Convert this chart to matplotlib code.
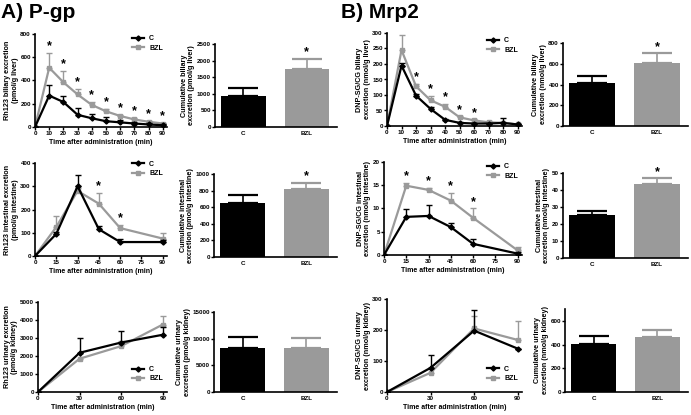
import matplotlib
matplotlib.use("Agg")
import matplotlib.pyplot as plt
import numpy as np

plt.rcParams['font.family'] = ['Liberation Sans', 'DejaVu Sans']
plt.rcParams['font.weight'] = 'bold'

GRAY = '#9a9a9a'

# ---------------- Data ----------------
# P-gp (Rh123)
t_bil = [0, 10, 20, 30, 40, 50, 60, 70, 80, 90]
pgp_bil_C = [0, 270, 215, 105, 75, 50, 40, 30, 22, 15]
pgp_bil_C_err = [0, 90, 50, 60, 40, 32, 20, 12, 10, 8]
pgp_bil_B = [0, 510, 385, 280, 190, 135, 95, 65, 45, 30]
pgp_bil_B_err = [0, 125, 100, 50, 25, 20, 12, 10, 8, 8]
pgp_bil_star = [10, 20, 30, 40, 50, 60, 70, 80, 90]
pgp_cum_bil = [920, 1760]
pgp_cum_bil_err = [260, 300]

t_int = [0, 15, 30, 45, 60, 90]
pgp_int_C = [0, 95, 300, 115, 60, 60]
pgp_int_C_err = [0, 10, 50, 15, 15, 8]
pgp_int_B = [0, 125, 280, 225, 120, 75]
pgp_int_B_err = [0, 45, 12, 45, 15, 25]
pgp_int_star = [45, 60]
pgp_cum_int = [645, 825]
pgp_cum_int_err = [105, 65]

t_uri = [0, 30, 60, 90]
pgp_uri_C = [0, 2180, 2750, 3180]
pgp_uri_C_err = [0, 820, 650, 450]
pgp_uri_B = [0, 1850, 2550, 3750]
pgp_uri_B_err = [0, 300, 300, 450]
pgp_cum_uri = [8200, 8250]
pgp_cum_uri_err = [2100, 1950]

# Mrp2 (DNP-SG/CG)
mrp_bil_C = [0, 195, 98, 55, 20, 10, 8, 8, 10, 5]
mrp_bil_C_err = [0, 8, 5, 5, 3, 2, 2, 2, 15, 2]
mrp_bil_B = [0, 245, 128, 83, 62, 28, 18, 12, 10, 5]
mrp_bil_B_err = [0, 50, 8, 15, 10, 3, 3, 3, 3, 2]
mrp_bil_star = [20, 30, 40, 50, 60]
mrp_cum_bil = [410, 610]
mrp_cum_bil_err = [75, 90]

mrp_int_C = [0, 8.2, 8.4, 6.0, 2.4, 0.3]
mrp_int_C_err = [0, 1.6, 2.3, 0.8, 1.0, 0.3]
mrp_int_B = [0, 14.9, 14.0, 11.7, 8.0, 1.0]
mrp_int_B_err = [0, 0.6, 0.5, 1.7, 2.0, 0.8]
mrp_int_star = [15, 30, 45, 60]
mrp_cum_int = [25.5, 43.5]
mrp_cum_int_err = [2.0, 3.3]

mrp_uri_C = [0, 78, 198, 140]
mrp_uri_C_err = [0, 40, 65, 0]
mrp_uri_B = [0, 62, 205, 168]
mrp_uri_B_err = [0, 12, 40, 60]
mrp_cum_uri = [405, 460]
mrp_cum_uri_err = [70, 65]

groups = ['C', 'BZL']
xlab = 'Time after administration (min)'

W, H = 691, 415
fig = plt.figure(figsize=(W / 100, H / 100), dpi=100)

LBL = 5.2
TICK = 4.5


def ax_at(l, r, t, b):
    return fig.add_axes([l / W, 1 - b / H, (r - l) / W, (b - t) / H])


def style(ax):
    for s in ['top', 'right']:
        ax.spines[s].set_visible(False)
    for s in ['left', 'bottom']:
        ax.spines[s].set_linewidth(1.2)
    ax.tick_params(labelsize=TICK, width=1, length=2, pad=1)
    for lab in ax.get_xticklabels() + ax.get_yticklabels():
        lab.set_fontweight('bold')


def place_ylabel(ax, box, text, yticks):
    ax.set_ylabel(text, fontsize=LBL, fontweight='bold', linespacing=1.1)
    width = box[1] - box[0]
    nch = max(len(str(v)) for v in yticks)
    off = 4.2 + nch * TICK * 0.556 * 100 / 72 + 1.8
    ax.yaxis.set_label_coords(-off / width, 0.5)


def line_panel(box, t, c, ce, b, be, ylim, yticks, xticks, xmax, ylabel,
               stars=(), legend_loc='upper right', legend_anchor=None):
    ax = ax_at(*box)
    t = np.array(t)
    for y, e, col, m, lab in [(b, be, GRAY, 's', 'BZL'), (c, ce, 'black', 'D', 'C')]:
        y = np.array(y, float)
        e = np.array(e, float)
        ax.errorbar(t, y, yerr=[np.zeros_like(e), e], color=col, ecolor=col,
                     elinewidth=1, capsize=2, capthick=1, lw=1.6, marker=m,
                     ms=2.6, label=lab, zorder=3 if col == 'black' else 2)
    bb = np.array(b, float) + np.array(be, float)
    for s in stars:
        i = list(t).index(s)
        ax.annotate('*', (s, bb[i]), xytext=(0, 0.5), textcoords='offset points',
                    ha='center', va='bottom', fontsize=9, fontweight='bold')
    ax.set_xlim(0, xmax)
    ax.set_ylim(*ylim)
    ax.set_yticks(yticks)
    ax.set_xticks(xticks)
    ax.set_xlabel(xlab, fontsize=5, fontweight='bold', labelpad=2)
    place_ylabel(ax, box, ylabel, yticks)
    style(ax)
    h, l = ax.get_legend_handles_labels()
    h = [hh[0] for hh in h][::-1]
    l = l[::-1]
    kw = dict(frameon=False, fontsize=5, handlelength=1.6, handletextpad=0.8,
              labelspacing=0.35, borderaxespad=0.2)
    if legend_anchor is not None:
        kw['bbox_to_anchor'] = legend_anchor
    leg = ax.legend(h, l, loc=legend_loc, **kw)
    for tx in leg.get_texts():
        tx.set_fontweight('bold')
    return ax


def bar_panel(box, vals, errs, ylim, yticks, ylabel, star=False):
    ax = ax_at(*box)
    x = np.arange(2)
    ax.bar(x, vals, width=0.7, color=['black', GRAY], zorder=2)
    for xi, v, e, col in zip(x, vals, errs, ['black', GRAY]):
        ax.errorbar([xi], [v], yerr=[[0], [e]], color=col, capsize=11,
                     elinewidth=1.2, capthick=1.6, zorder=1)
    if star:
        ax.annotate('*', (1, vals[1] + errs[1]), xytext=(0, 0.5),
                    textcoords='offset points', ha='center', va='bottom',
                    fontsize=9, fontweight='bold')
    ax.set_xlim(-0.45, 1.48)
    ax.set_ylim(*ylim)
    ax.set_yticks(yticks)
    ax.set_xticks(x)
    ax.set_xticklabels(groups)
    place_ylabel(ax, box, ylabel, yticks)
    style(ax)
    ax.tick_params(axis='x', length=0, pad=3)
    return ax


# ---------- A) P-gp ----------
line_panel((35, 167, 34, 127), t_bil, pgp_bil_C, pgp_bil_C_err, pgp_bil_B, pgp_bil_B_err,
           (0, 800), [0, 200, 400, 600, 800], list(range(0, 91, 10)), 93,
           'Rh123 biliary excretion\n(pmol/g liver)', stars=pgp_bil_star,
           legend_anchor=(1.0, 1.03))
bar_panel((215, 337, 44, 127), pgp_cum_bil, pgp_cum_bil_err, (0, 2500),
          [0, 500, 1000, 1500, 2000, 2500], 'Cumulative biliary\nexcretion (pmol/g liver)', star=True)

line_panel((35, 167, 163, 256), t_int, pgp_int_C, pgp_int_C_err, pgp_int_B, pgp_int_B_err,
           (0, 400), [0, 100, 200, 300, 400], [0, 15, 30, 45, 60, 75, 90], 93,
           'Rh123 intestinal excretion\n(pmol/g intestine)', stars=pgp_int_star,
           legend_anchor=(1.0, 1.07))
bar_panel((214, 337, 174, 257), pgp_cum_int, pgp_cum_int_err, (0, 1000),
          [0, 200, 400, 600, 800, 1000], 'Cumulative intestinal\nexcretion (pmol/g intestine)', star=True)

line_panel((38, 167, 302, 392), t_uri, pgp_uri_C, pgp_uri_C_err, pgp_uri_B, pgp_uri_B_err,
           (0, 5000), [0, 1000, 2000, 3000, 4000, 5000], [0, 30, 60, 90], 93,
           'Rh123 urinary excretion\n(pmol/g kidney)', legend_loc='lower right',
           legend_anchor=(1.0, 0.06))
bar_panel((214, 337, 312, 392), pgp_cum_uri, pgp_cum_uri_err, (0, 15000),
          [0, 5000, 10000, 15000], 'Cumulative urinary\nexcretion (pmol/g kidney)')

# ---------- B) Mrp2 ----------
line_panel((387, 522, 33, 126), t_bil, mrp_bil_C, mrp_bil_C_err, mrp_bil_B, mrp_bil_B_err,
           (0, 300), [0, 50, 100, 150, 200, 250, 300], list(range(0, 91, 10)), 93,
           'DNP-SG/CG biliary\nexcretion (nmol/g liver)', stars=mrp_bil_star,
           legend_anchor=(1.0, 1.0))
bar_panel((563, 688, 43, 126), mrp_cum_bil, mrp_cum_bil_err, (0, 800),
          [0, 200, 400, 600, 800], 'Cumulative biliary\nexcretion (nmol/g liver)', star=True)

line_panel((384, 522, 162, 255), t_int, mrp_int_C, mrp_int_C_err, mrp_int_B, mrp_int_B_err,
           (0, 20), [0, 5, 10, 15, 20], [0, 15, 30, 45, 60, 75, 90], 93,
           'DNP-SG/CG intestinal\nexcretion (nmol/g intestine)', stars=mrp_int_star,
           legend_anchor=(1.0, 1.03))
bar_panel((563, 688, 173, 258), mrp_cum_int, mrp_cum_int_err, (0, 50),
          [0, 10, 20, 30, 40, 50], 'Cumulative intestinal\nexcretion (nmol/g intestine)', star=True)

line_panel((387, 522, 299, 392), t_uri, mrp_uri_C, mrp_uri_C_err, mrp_uri_B, mrp_uri_B_err,
           (0, 300), [0, 100, 200, 300], [0, 30, 60, 90], 93,
           'DNP-SG/CG urinary\nexcretion (nmol/g kidney)', legend_loc='lower right',
           legend_anchor=(1.0, 0.06))
bar_panel((565, 688, 309, 392), mrp_cum_uri, mrp_cum_uri_err, (0, 700),
          [0, 200, 400, 600], 'Cumulative urinary\nexcretion (nmol/g kidney)')

fig.text(1 / W, 1 - 12 / H, 'A) P-gp', fontsize=15, fontweight='bold', va='center', ha='left')
fig.text(341 / W, 1 - 12 / H, 'B) Mrp2', fontsize=15, fontweight='bold', va='center', ha='left')

fig.savefig('out.png', dpi=100)
